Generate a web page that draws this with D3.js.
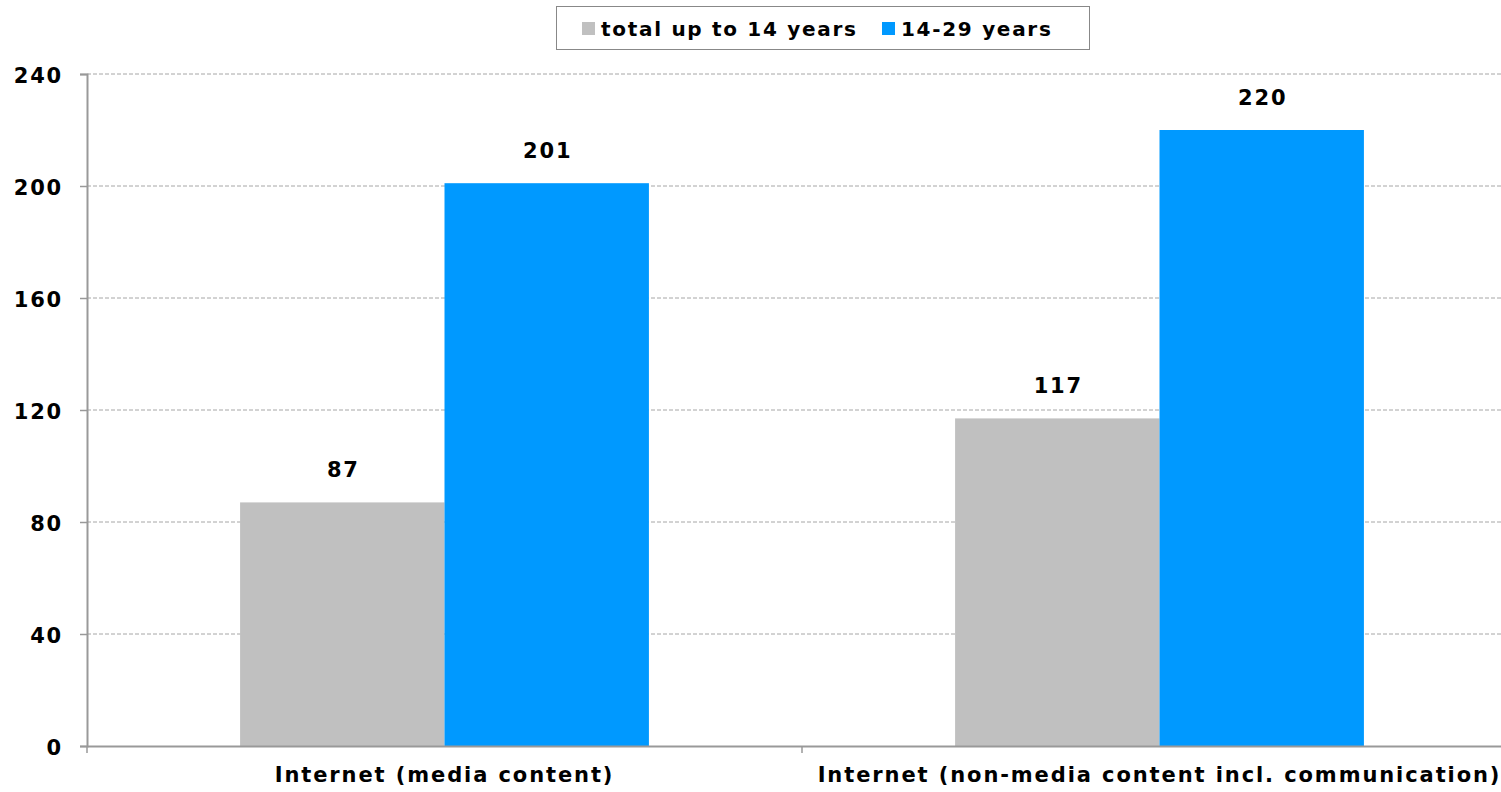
<!DOCTYPE html>
<html>
<head>
<meta charset="utf-8">
<script src="https://cdn.jsdelivr.net/npm/d3@7"></script>
<style>
  html, body { margin: 0; padding: 0; background: #fff; }
  svg { display: block; font-family: "DejaVu Sans", Verdana, sans-serif; font-weight: bold; }
</style>
</head>
<body>
<svg id="chart" width="1501" height="792"></svg>
<script>
const categories = ["Internet (media content)", "Internet (non-media content incl. communication)"];
const seriesNames = ["total up to 14 years", "14-29 years"];
const seriesColors = ["#C0C0C0", "#0099FF"];
const totalUpTo14 = [87, 117];
const age14to29 = [201, 220];
const yTicks = [0, 40, 80, 120, 160, 200, 240];

const svg = d3.select("#chart");
const margin = { left: 87, top: 74, bottom: 46 };
const plotRight = 1517;
const height = 792;
const FONT = "DejaVu Sans, sans-serif";

const x = d3.scaleBand().domain(categories).range([margin.left, plotRight]);
// two adjacent bars centered in each category band
const xs = d3.scaleBand().domain(seriesNames).range([0, x.bandwidth()]).paddingOuter(0.7489).paddingInner(0);
const y = d3.scaleLinear().domain([0, 240]).range([height - margin.bottom, margin.top]);

// dashed gridlines
svg.append("g")
  .selectAll("line")
  .data(yTicks.filter(d => d > 0))
  .join("line")
  .attr("x1", margin.left).attr("x2", 1501)
  .attr("y1", d => y(d)).attr("y2", d => y(d))
  .attr("stroke", "#a6a6a6")
  .attr("stroke-width", 1)
  .attr("stroke-dasharray", "4,2");

// bars
const rows = categories.map((c, i) => ({ cat: c, values: [totalUpTo14[i], age14to29[i]] }));
const groups = svg.append("g").selectAll("g")
  .data(rows).join("g")
  .attr("transform", d => `translate(${x(d.cat)},0)`);

groups.selectAll("rect")
  .data(d => d.values.map((v, j) => ({ name: seriesNames[j], value: v, color: seriesColors[j] })))
  .join("rect")
  .attr("x", d => xs(d.name))
  .attr("width", xs.bandwidth())
  .attr("y", d => y(d.value))
  .attr("height", d => y(0) - y(d.value))
  .attr("fill", d => d.color);

// value labels above bars
groups.selectAll("text.val")
  .data(d => d.values.map((v, j) => ({ name: seriesNames[j], value: v })))
  .join("text")
  .attr("class", "val")
  .attr("x", d => xs(d.name) + xs.bandwidth() / 2 + 1)
  .attr("y", d => y(d.value) - 25)
  .attr("text-anchor", "middle")
  .attr("font-size", 21)
  .attr("letter-spacing", 1.8)
  .attr("fill", "#000")
  .text(d => d.value);

// y axis
const yAxis = svg.append("g")
  .attr("transform", `translate(${margin.left},0)`)
  .call(d3.axisLeft(y).tickValues(yTicks).tickSize(7).tickPadding(17));
yAxis.select(".domain").attr("stroke", "#999").attr("stroke-width", 2);
yAxis.selectAll(".tick line").attr("stroke", "#999").attr("stroke-width", 1.5);
yAxis.selectAll(".tick text")
  .attr("font-size", 21).attr("font-family", FONT).attr("letter-spacing", 1.8)
  .attr("font-weight", "bold").attr("fill", "#000")
  .attr("dy", "0.4em");

// x axis
const xAxis = svg.append("g")
  .attr("transform", `translate(0,${y(0)})`)
  .call(d3.axisBottom(x).tickSize(0).tickPadding(21));
xAxis.select(".domain").attr("stroke", "#999").attr("stroke-width", 2);
xAxis.selectAll(".tick text")
  .attr("font-size", 21).attr("font-family", FONT).attr("letter-spacing", 1.9)
  .attr("font-weight", "bold").attr("fill", "#000");
// category boundary ticks
xAxis.append("g").selectAll("line")
  .data(categories)
  .join("line")
  .attr("x1", d => x(d)).attr("x2", d => x(d))
  .attr("y1", 0).attr("y2", 7)
  .attr("stroke", "#999").attr("stroke-width", 1.5);

// legend
const legend = svg.append("g");
legend.append("rect")
  .attr("x", 556.5).attr("y", 6.5).attr("width", 533).attr("height", 43)
  .attr("fill", "#fff").attr("stroke", "#888").attr("stroke-width", 1);
const legendX = [582, 882];
seriesNames.forEach((name, i) => {
  legend.append("rect")
    .attr("x", legendX[i]).attr("y", 22).attr("width", 13).attr("height", 13)
    .attr("fill", seriesColors[i]);
  legend.append("text")
    .attr("x", legendX[i] + 19).attr("y", 36)
    .attr("font-size", 20)
    .attr("letter-spacing", 1.7)
    .attr("fill", "#000")
    .text(name);
});
</script>
</body>
</html>
